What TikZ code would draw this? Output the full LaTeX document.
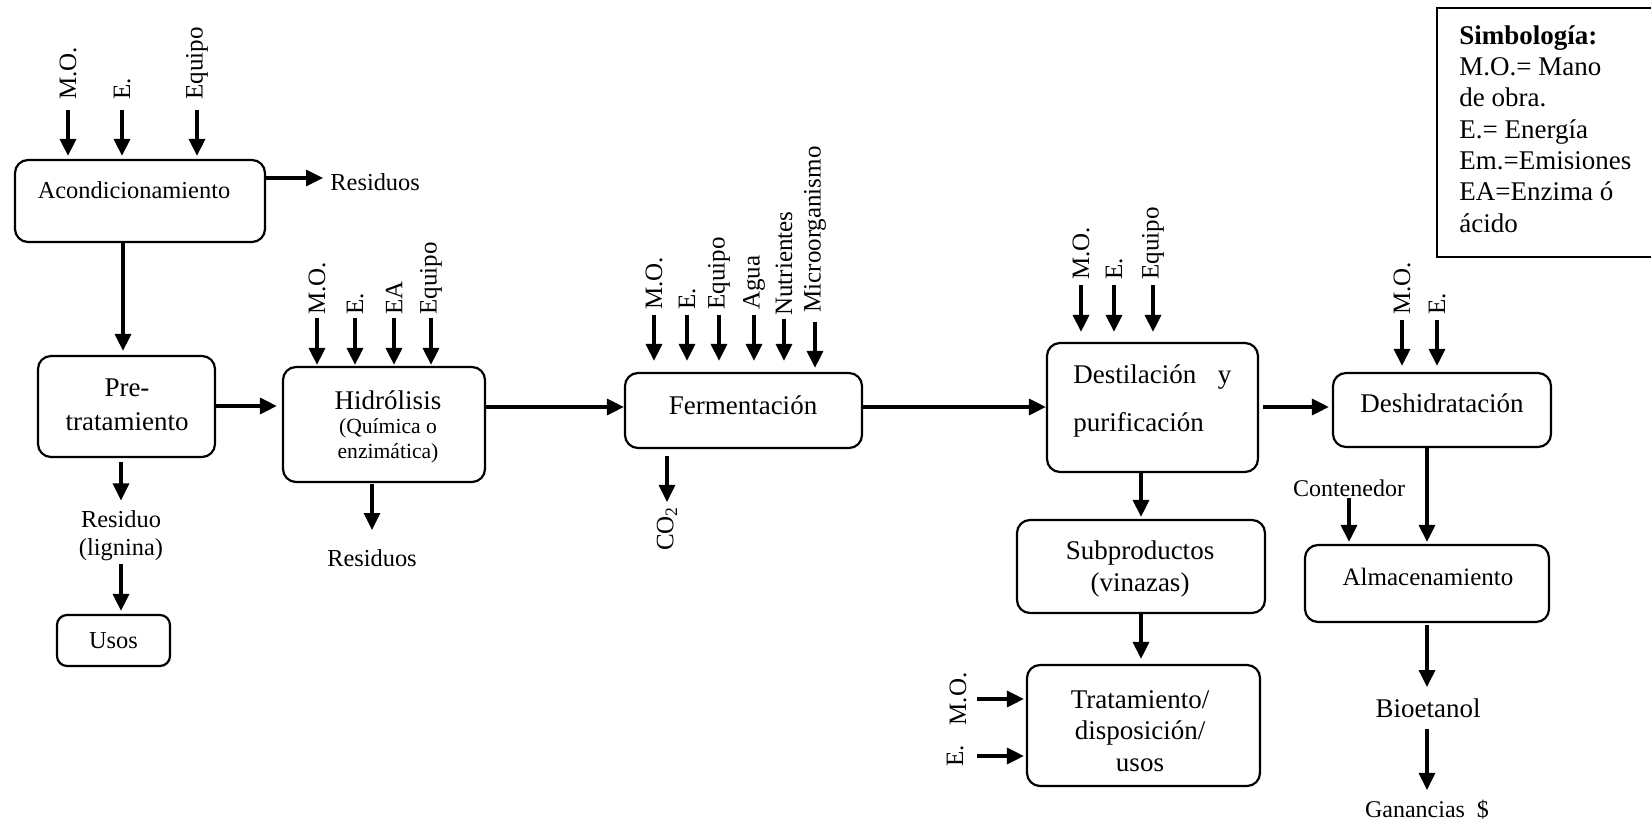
\documentclass[tikz,border=0pt]{standalone}
\usepackage{fontspec}
\setmainfont{Liberation Serif}
\usetikzlibrary{arrows.meta}
\newcommand\szbig{\fontsize{13.5}{16}\selectfont}
\newcommand\szmid{\fontsize{12.2}{14}\selectfont}
\newcommand\szlbl{\fontsize{12.5}{14}\selectfont}

\begin{document}
\begin{tikzpicture}[x=0.5pt,y=-0.5pt,
  box/.style={draw,line width=1.1pt,rounded corners=6.5pt,inner sep=0pt},
  arr/.style={line width=1.6pt,-{Triangle[length=8.5pt,width=8pt]}},
  vlbl/.style={rotate=90,anchor=west,inner sep=0pt,font=\szlbl},
  txt/.style={inner sep=0pt,font=\szmid},
  big/.style={inner sep=0pt,font=\szbig}]
\useasboundingbox (0,0) rectangle (1651,823);

% ---------- process boxes ----------
\node[box,minimum width=125pt,minimum height=41pt]   (acond) at (140,201)    {};
\node[box,minimum width=88.5pt,minimum height=50.5pt](pre)   at (126.5,406.5) {};
\node[box,minimum width=101pt,minimum height=57.5pt] (hidr)  at (384,424.5)  {};
\node[box,rounded corners=5pt,minimum width=56.5pt,minimum height=25.5pt,font=\szmid] (usos) at (113.5,640.5) {Usos};
\node[box,minimum width=118.5pt,minimum height=37.5pt](ferm) at (743.5,410.5) {};
\node[box,minimum width=105.5pt,minimum height=64.5pt](dest) at (1152.5,407.5) {};
\node[box,minimum width=109pt,minimum height=37pt]   (desh)  at (1442,410)   {};
\node[box,minimum width=124pt,minimum height=46.5pt] (subp)  at (1141,566.5) {};
\node[box,minimum width=116.5pt,minimum height=60.5pt](trat) at (1143.5,725.5) {};
\node[box,minimum width=122pt,minimum height=38.5pt] (alm)   at (1427,583.5) {};
\node[draw,line width=1.1pt,inner sep=0pt,minimum width=111.5pt,minimum height=124.5pt] (simb) at (1548.5,132.5) {};

% ---------- box texts ----------
\node[txt] (acondT) at (134,190) {Acondicionamiento};
\node[big,align=center,font=\fontsize{13.5}{17}\selectfont] (preT) at (127,405) {Pre-\\tratamiento};
\node[big] (hidrT) at (388,400) {Hidrólisis};
\node[inner sep=0pt,align=center,font=\fontsize{10.8}{12.5}\selectfont] (hidrS) at (388,441) {(Química o\\enzimática)};
\node[big] (fermT) at (743,405) {Fermentación};
\node[inner sep=0pt,anchor=west,align=left,font=\fontsize{13.5}{24}\selectfont] (destT) at (1073,401)
  {\makebox[79pt][s]{Destilación y}\\purificación};
\node[big] (deshT) at (1442,403) {Deshidratación};
\node[big,align=center] (subpT) at (1140,569) {Subproductos\\(vinazas)};
\node[big,align=center,font=\fontsize{13.5}{15.75}\selectfont] (tratT) at (1140,731) {Tratamiento/\\disposición/\\usos};
\node[txt,font=\fontsize{12.5}{14}\selectfont] (almT) at (1428,577) {Almacenamiento};
\node[inner sep=0pt,anchor=north west,align=left,font=\fontsize{13.5}{15.67}\selectfont] (simbT) at (1459,25)
  {\textbf{Simbología:}\\M.O.= Mano\\de obra.\\E.= Energía\\Em.=Emisiones\\EA=Enzima ó\\ácido};

% ---------- free labels ----------
\node[txt,anchor=west] (resA) at (330,182) {Residuos};
\node[txt,align=center] (resid) at (121,536) {Residuo\\(lignina)};
\node[txt] (resH) at (372,558) {Residuos};
\node[vlbl,anchor=east] (co2) at (667,506) {CO\textsubscript{2}};
\node[txt,font=\fontsize{12}{14}\selectfont] (cont) at (1349,488) {Contenedor};
\node[big] (bio) at (1428,708) {Bioetanol};
\node[txt,font=\fontsize{12}{14}\selectfont] (gan) at (1427,810) {Ganancias\ \ \$};

% ---------- inputs: Acondicionamiento ----------
\node[vlbl] (a1) at (68,100) {M.O.};
\node[vlbl] (a2) at (122,100) {E.};
\node[vlbl] (a3) at (197,100) {Equipo};
\foreach \n in {a1,a2,a3}
  \draw[arr,shorten >=1.5pt] ([yshift=-5pt]\n.west) -- (\n.west |- acond.north);

% ---------- inputs: Hidrólisis ----------
\node[vlbl] (h1) at (317,315) {M.O.};
\node[vlbl] (h2) at (355,315) {E.};
\node[vlbl] (h3) at (394,315) {EA};
\node[vlbl] (h4) at (431,315) {Equipo};
\foreach \n in {h1,h2,h3,h4}
  \draw[arr,shorten >=0.5pt] ([yshift=-1.5pt]\n.west) -- (\n.west |- hidr.north);

% ---------- inputs: Fermentación ----------
\node[vlbl] (f1) at (654,310) {M.O.};
\node[vlbl] (f2) at (687,310) {E.};
\node[vlbl] (f3) at (719,310) {Equipo};
\node[vlbl] (f4) at (754,310) {Agua};
\node[vlbl] (f5) at (784,316) {Nutrientes};
\node[vlbl] (f6) at (815,313) {Microorganismo};
\foreach \n/\s in {f1/2.5pt,f2/2.5pt,f3/2.5pt,f4/2.5pt,f5/1.5pt}
  \draw[arr,shorten >=5.5pt] ([yshift=-\s]\n.west) -- (\n.west |- ferm.north);
\draw[arr,shorten >=2pt] ([yshift=-4.5pt]f6.west) -- (f6.west |- ferm.north);

% ---------- inputs: Destilación ----------
\node[vlbl] (d1) at (1081,280) {M.O.};
\node[vlbl] (d2) at (1114,280) {E.};
\node[vlbl] (d3) at (1153,280) {Equipo};
\foreach \n in {d1,d2,d3}
  \draw[arr,shorten >=5pt] ([yshift=-2.5pt]\n.west) -- (\n.west |- dest.north);

% ---------- inputs: Deshidratación ----------
\node[vlbl] (e1) at (1402,315) {M.O.};
\node[vlbl] (e2) at (1437,315) {E.};
\foreach \n in {e1,e2}
  \draw[arr,shorten >=3pt] ([yshift=-2.5pt]\n.west) -- (\n.west |- desh.north);

% ---------- inputs: Tratamiento ----------
\node[rotate=90,inner sep=0pt,font=\szlbl] (t1) at (958,699) {M.O.};
\node[rotate=90,inner sep=0pt,font=\szlbl] (t2) at (955,756) {E.};
\draw[arr,shorten >=1pt] ([xshift=9.5pt]t1.center) -- (t1.center -| trat.west);
\draw[arr,shorten >=1pt] ([xshift=11pt]t2.center) -- (t2.center -| trat.west);

% ---------- main flow ----------
\draw[arr] ([yshift=2pt]resA.west -| acond.east) -- ([xshift=-3.5pt,yshift=2pt]resA.west);
\draw[arr,shorten >=2pt] ([xshift=-8.5pt]acond.south) -- ([xshift=-8.5pt]acond.south |- pre.north);
\draw[arr,shorten >=2.5pt] ([yshift=0.25pt]pre.east) -- ([yshift=0.25pt]pre.east -| hidr.west);
\draw[arr,shorten >=2pt] ([xshift=-2.75pt,yshift=-2pt]pre.south) -- ([yshift=3pt]resid.north);
\draw[arr,shorten >=1.5pt] ([yshift=-1.5pt]resid.south) -- (resid.south |- usos.north);
\draw[arr] ([yshift=-0.5pt]hidr.south -| resH.north) -- ([yshift=9.5pt]resH.north);
\draw[arr] ([yshift=8.75pt]hidr.east) -- ([yshift=8.75pt]hidr.east -| ferm.west);
\draw[arr] ([yshift=-3.5pt]ferm.south -| co2.east) -- ([yshift=2pt]co2.east);
\draw[arr] ([yshift=1.75pt]ferm.east) -- ([yshift=1.75pt]ferm.east -| dest.west);
\draw[arr,shorten <=2pt,shorten >=1.5pt] ([yshift=0.25pt]dest.east) -- ([yshift=0.25pt]dest.east -| desh.west);
\draw[arr,shorten >=1pt] (dest.south -| subp.north) -- (subp.north);
\draw[arr,shorten >=2.5pt] (subp.south) -- (subp.south |- trat.north);
\draw[arr,shorten >=1pt] ([xshift=-7.5pt]desh.south) -- ([xshift=-7.5pt]desh.south |- alm.north);
\draw[arr,shorten >=1pt] ([yshift=-0.5pt]cont.south) -- (cont.south |- alm.north);
\draw[arr,shorten >=5.5pt] ([yshift=-1pt]alm.south) -- (alm.south |- bio.north);
\draw[arr,shorten >=5pt] ([yshift=-5.5pt]bio.south -| gan.north) -- (gan.north);
\end{tikzpicture}
\end{document}
